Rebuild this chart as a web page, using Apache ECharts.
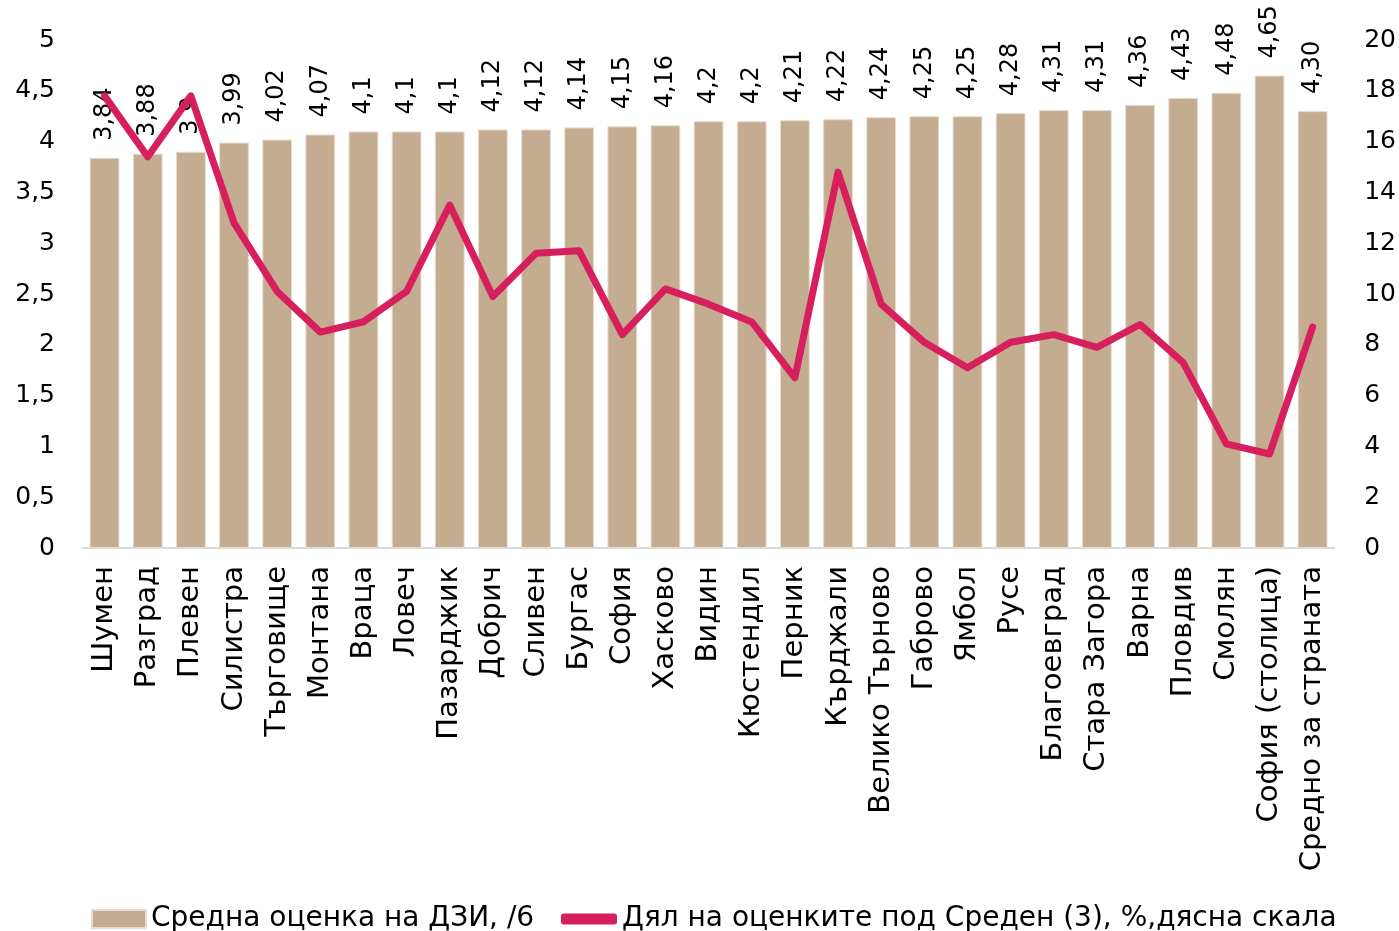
<!DOCTYPE html>
<html lang="bg">
<head>
    <meta charset="UTF-8">
    <title>Средна оценка на ДЗИ по области</title>
    <script src="https://cdn.jsdelivr.net/npm/echarts@6/dist/echarts.min.js"></script>
    <style>
        html, body { margin: 0; padding: 0; background: #fff; }
        #chart { width: 1399px; height: 931px; }
    </style>
</head>
<body>
    <div id="chart"></div>
    <script>
        // области
        const regions = ['Шумен', 'Разград', 'Плевен', 'Силистра', 'Търговище', 'Монтана', 'Враца', 'Ловеч',
            'Пазарджик', 'Добрич', 'Сливен', 'Бургас', 'София', 'Хасково', 'Видин', 'Кюстендил', 'Перник',
            'Кърджали', 'Велико Търново', 'Габрово', 'Ямбол', 'Русе', 'Благоевград', 'Стара Загора', 'Варна',
            'Пловдив', 'Смолян', 'София (столица)', 'Средно за страната'];

        // средна оценка на ДЗИ
        const avgGrade = [3.84, 3.88, 3.9, 3.99, 4.02, 4.07, 4.1, 4.1, 4.1, 4.12, 4.12, 4.14, 4.15, 4.16, 4.2,
            4.2, 4.21, 4.22, 4.24, 4.25, 4.25, 4.28, 4.31, 4.31, 4.36, 4.43, 4.48, 4.65, 4.30];
        const gradeLabels = ['3,84', '3,88', '3,9', '3,99', '4,02', '4,07', '4,1', '4,1', '4,1', '4,12', '4,12',
            '4,14', '4,15', '4,16', '4,2', '4,2', '4,21', '4,22', '4,24', '4,25', '4,25', '4,28', '4,31', '4,31',
            '4,36', '4,43', '4,48', '4,65', '4,30'];

        // дял на оценките под Среден (3), %
        const belowAvgShare = [17.8, 15.4, 17.8, 12.8, 10.1, 8.5, 8.9, 10.1, 13.5, 9.9, 11.6, 11.7, 8.4, 10.2,
            9.6, 8.9, 6.7, 14.8, 9.6, 8.1, 7.1, 8.1, 8.4, 7.9, 8.8, 7.3, 4.1, 3.7, 8.7];

        const leftTicks = { min: 0, max: 5, interval: 0.5 };
        const rightTicks = { min: 0, max: 20, interval: 2 };

        const barName = 'Средна оценка на ДЗИ, /6';
        const lineName = 'Дял на оценките под Среден (3), %,дясна скала';

        const font = 'DejaVu Sans';
        const legendText = { fontSize: 28, color: '#000', fontFamily: font };
        const chart = echarts.init(document.getElementById('chart'));

        chart.setOption({
            animation: false,
            textStyle: { fontFamily: font, color: '#000' },
            grid: { left: 83, right: 64, top: 40, bottom: 383 },
            // две легенди - различна височина на иконите
            legend: [
                {
                    top: 900,
                    left: 86,
                    itemWidth: 54,
                    itemHeight: 18,
                    textStyle: legendText,
                    data: [{ name: barName, icon: 'rect' }]
                },
                {
                    top: 900,
                    left: 556,
                    itemWidth: 56,
                    itemHeight: 11,
                    textStyle: legendText,
                    data: [{ name: lineName, icon: 'roundRect' }]
                }
            ],
            xAxis: {
                type: 'category',
                data: regions,
                axisLine: { lineStyle: { color: '#d9d9d9', width: 2 } },
                axisTick: { show: false },
                axisLabel: {
                    rotate: 90,
                    interval: 0,
                    fontSize: 29,
                    color: '#000',
                    margin: 18
                }
            },
            yAxis: [
                {
                    type: 'value',
                    min: leftTicks.min,
                    max: leftTicks.max,
                    interval: leftTicks.interval,
                    splitLine: { show: false },
                    axisLine: { show: false },
                    axisTick: { show: false },
                    axisLabel: {
                        fontSize: 25,
                        color: '#000',
                        margin: 28,
                        formatter: v => String(v).replace('.', ',')
                    }
                },
                {
                    type: 'value',
                    min: rightTicks.min,
                    max: rightTicks.max,
                    interval: rightTicks.interval,
                    splitLine: { show: false },
                    axisLine: { show: false },
                    axisTick: { show: false },
                    axisLabel: { fontSize: 25, color: '#000', margin: 30 }
                }
            ],
            series: [
                {
                    name: barName,
                    type: 'bar',
                    data: avgGrade,
                    barWidth: '69%',
                    itemStyle: { color: '#c4ac91', borderColor: '#e6dccf', borderWidth: 1 },
                    label: {
                        show: true,
                        position: 'top',
                        rotate: 90,
                        align: 'left',
                        verticalAlign: 'middle',
                        distance: 17,
                        fontSize: 24,
                        color: '#000',
                        formatter: p => gradeLabels[p.dataIndex]
                    },
                    z: 2
                },
                {
                    name: lineName,
                    type: 'line',
                    yAxisIndex: 1,
                    data: belowAvgShare,
                    symbol: 'none',
                    lineStyle: { color: '#d81f5e', width: 7, cap: 'round', join: 'round' },
                    itemStyle: { color: '#d81f5e' },
                    z: 5
                }
            ]
        });
    </script>
</body>
</html>
